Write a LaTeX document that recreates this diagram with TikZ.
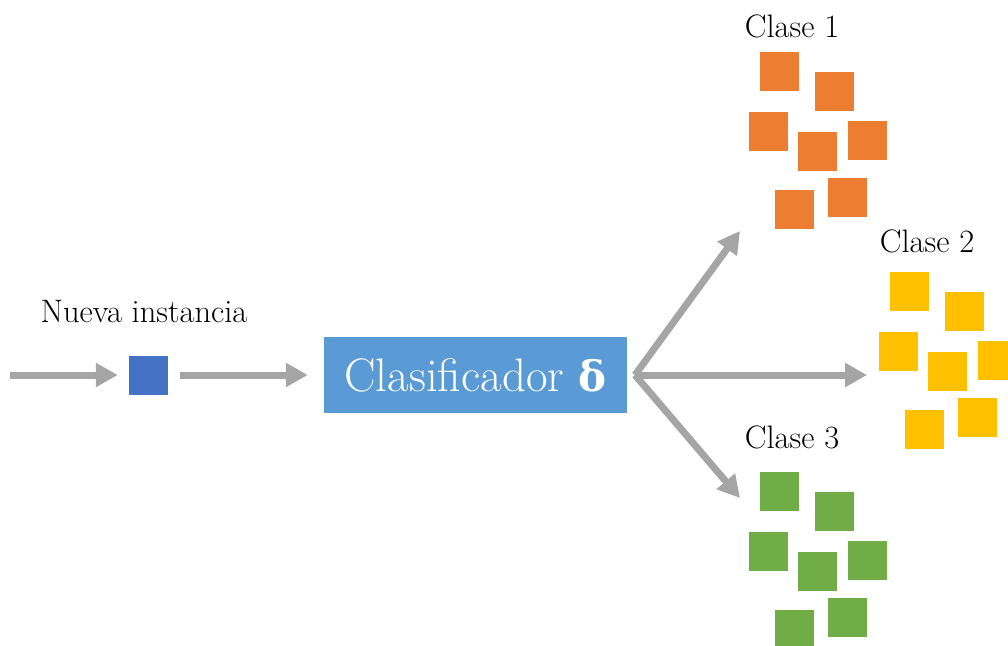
\documentclass[tikz,border=0pt]{standalone}
\usepackage{fontspec}
\newfontfamily\greekserif{DejaVu Serif}
\usetikzlibrary{arrows.meta}
\definecolor{arrowgray}{HTML}{A5A5A5}
\definecolor{instblue}{HTML}{4472C4}
\definecolor{clfblue}{HTML}{5B9BD5}
\definecolor{c1orange}{HTML}{ED7D31}
\definecolor{c2yellow}{HTML}{FFC000}
\definecolor{c3green}{HTML}{70AD47}
\begin{document}
\begin{tikzpicture}[x=1pt,y=-1pt,
  flow/.style={draw=arrowgray, line width=7pt,
    -{Triangle[length=22pt,width=23pt]}},
  sq/.style={draw=white, line width=0.6pt, inner sep=0pt, minimum size=40pt, anchor=north west},
  lbl/.style={anchor=base, font=\fontsize{32.5}{38}\selectfont},
  clfbox/.style={fill=clfblue, text=white, inner sep=0pt,
    minimum width=303pt, minimum height=76pt,
    font=\fontsize{47}{56}\selectfont}]
\useasboundingbox (0,0) rectangle (1008,645);

% input instance and classifier
\coordinate (src) at (10,375);
\node[fill=instblue, inner sep=0pt, minimum size=39pt] (inst) at (148.5,375) {};
\node[lbl] (instlbl) at (144,322) {Nueva instancia};
\node[clfbox] (clf) at (475.5,375) {Clasificador {\greekserif\bfseries\fontsize{42}{50}\selectfont δ}};

\draw[flow, shorten >=11pt] (src) -- (inst.west);
\draw[flow, shorten <=12pt, shorten >=16pt] (inst.east) -- (inst.east -| clf.west);

% fan-out towards the classes
\coordinate (fan) at (635,375);
\coordinate (t1) at (740,231);
\coordinate (t2) at (867,375);
\coordinate (t3) at (740,498);
\draw[flow] (fan) -- (t1);
\draw[flow] (fan) -- (t2);
\draw[flow] (fan) -- (t3);

% class clusters
\foreach \g/\col/\bx/\by in {a/c1orange/759/51, b/c2yellow/889/271, c/c3green/759/471}{
  \foreach \i/\dx/\dy in {1/0/0, 2/55/20, 3/-11/60, 4/38/80, 5/88/69, 6/68/126, 7/15/138}{
    \node[sq, fill=\col] (\g\i) at (\bx+\dx,\by+\dy) {};
  }
}

\node[lbl] (lbl1) at (792,37) {Clase 1};
\node[lbl] (lbl2) at (927,252) {Clase 2};
\node[lbl] (lbl3) at (792,448) {Clase 3};
\end{tikzpicture}
\end{document}
